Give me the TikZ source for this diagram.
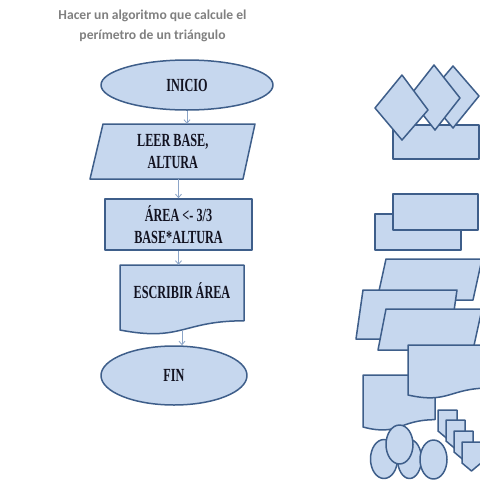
\documentclass[tikz,border=0pt]{standalone}
\usepackage{fontspec}
\usetikzlibrary{shapes.geometric,arrows.meta}
\newfontfamily\titlefont[BoldFont={* Bold}]{Carlito}
\newfontfamily\boxfont[FakeStretch=0.66]{Liberation Serif Bold}
\definecolor{fillc}{RGB}{198,215,238}
\definecolor{strokec}{RGB}{62,94,138}
\definecolor{arrowc}{RGB}{140,165,200}
\definecolor{txtc}{RGB}{18,18,32}
\definecolor{titlec}{RGB}{128,128,128}
\tikzset{
  shp/.style={draw=strokec, fill=fillc, line width=1.5pt, line join=round},
  lbl/.style={font=\boxfont\fontsize{18.5}{22}\selectfont, text=txtc, align=center, inner sep=0pt},
  flow/.style={-{Straight Barb[length=3.5pt,width=6pt]}, draw=arrowc, line width=0.8pt},
}
\begin{document}
\begin{tikzpicture}[x=1pt,y=-1pt]
\useasboundingbox[fill=white] (0,0) rectangle (480,480);
\clip (0,0) rectangle (480,480);
% title
\node[font=\titlefont\bfseries\fontsize{13.6}{19.5}\selectfont, text=titlec, align=center, inner sep=0pt] (title) at (152.5,26) {Hacer un algoritmo que calcule el\\perímetro de un triángulo};
% flowchart
\node[shp, ellipse, minimum width=172pt, minimum height=50pt, lbl] (inicio) at (187,85) {INICIO};
\draw[shp] (90,179) -- (103,124) -- (255,124) -- (243,179) -- cycle;
\node[lbl, minimum width=150pt, minimum height=55pt] (leer) at (172.75,151.5) {LEER BASE,\\ALTURA};
\node[shp, rectangle, minimum width=147pt, minimum height=51pt, lbl] (area) at (178.5,224.5) {ÁREA <- 3/3\\BASE*ALTURA};
\draw[shp] (120,265) -- (244,265) -- (244,320.8) .. controls (182,320.8) and (182,342) .. (120,330) -- cycle;
\node[lbl, minimum width=124pt, minimum height=66pt, text height=13pt, text depth=12pt] (escribir) at (182,298) {ESCRIBIR ÁREA};
\node[shp, ellipse, minimum width=146pt, minimum height=59pt, lbl] (fin) at (174,375.5) {FIN};
\draw[flow] (inicio.south) -- (inicio.south |- leer.north);
\draw[flow] (area.north |- leer.south) -- (area.north);
\draw[flow] (area.south) -- (area.south |- escribir.north);
\draw[flow] (escribir.south) -- (escribir.south |- fin.north);
% decorative shapes on the right
\draw[shp] (393,125) rectangle (479,159);
\draw[shp] (453,66) -- (479,96) -- (453,128) -- (427,97) -- cycle;
\draw[shp] (434,65) -- (460,98) -- (435,130) -- (409,97) -- cycle;
\draw[shp] (402,75) -- (428,110) -- (402,140) -- (375,108) -- cycle;
\draw[shp] (375,214) rectangle (461,250);
\draw[shp] (393,194) rectangle (478,230);
\draw[shp] (386,259) -- (482,259) -- (473,300) -- (377,300) -- cycle;
\draw[shp] (363,290) -- (457,290) -- (450,339) -- (356,339) -- cycle;
\draw[shp] (386,309) -- (482,309) -- (473,350) -- (378,350) -- cycle;
\draw[shp] (363,375) -- (435,375) -- (435,419.7) .. controls (399,419.7) and (399,436.6) .. (363,427) -- cycle;
\draw[shp] (408,345) -- (490,345) -- (490,388) .. controls (449,388) and (449,404.2) .. (408,395) -- cycle;
\draw[shp] (384,459) ellipse [x radius=13.5, y radius=19.5];
\draw[shp] (409.5,459) ellipse [x radius=12, y radius=19.5];
\draw[shp] (399.5,444.5) ellipse [x radius=13.5, y radius=19.5];
\draw[shp] (433.5,459.5) ellipse [x radius=13.5, y radius=19.5];
\foreach \px/\py in {438/410, 446/420, 454/431, 462/442}{
  \draw[shp] (\px,\py) -- ++(19,0) -- ++(0,21) -- ++(-9.5,8) -- ++(-9.5,-8) -- cycle;
}
\end{tikzpicture}
\end{document}
